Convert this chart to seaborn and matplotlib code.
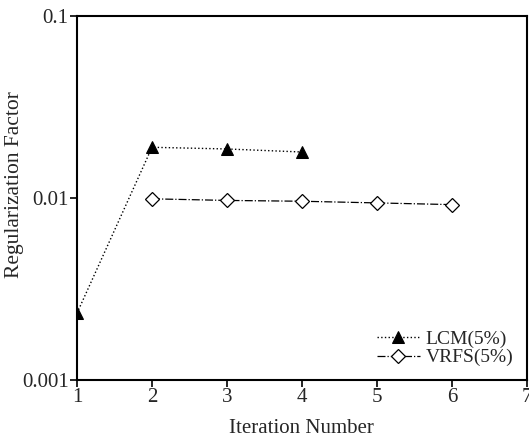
import pandas as pd
import seaborn as sns
import matplotlib.pyplot as plt

# Valores
lcm_iter = [1, 2, 3, 4]
lcm_vals = [0.00233, 0.0190, 0.0186, 0.0179]
vrfs_iter = [2, 3, 4, 5, 6]
vrfs_vals = [0.0099, 0.0097, 0.0096, 0.0094, 0.0092]
x_ticks = [1, 2, 3, 4, 5, 6, 7]
y_ticks = [0.001, 0.01, 0.1]
y_tick_labels = ['0.001', '0.01', '0.1']

df_lcm = pd.DataFrame({'iter': lcm_iter, 'val': lcm_vals})
df_vrfs = pd.DataFrame({'iter': vrfs_iter, 'val': vrfs_vals})

sns.set_style('ticks')
plt.rcParams['font.family'] = ['Liberation Serif', 'DejaVu Serif']

fig = plt.figure(figsize=(5.29, 4.44), dpi=100)
ax = fig.add_axes([0.1456, 0.1441, 0.8507, 0.8198])

sns.lineplot(data=df_lcm, x='iter', y='val', ax=ax, color='black', linestyle=':',
             linewidth=1.0, marker='^', markersize=8, markerfacecolor='black',
             markeredgecolor='black', label='LCM(5%)')
sns.lineplot(data=df_vrfs, x='iter', y='val', ax=ax, color='black', linestyle='-.',
             linewidth=0.9, marker='D', markersize=7.5, markerfacecolor='white',
             markeredgecolor='black', markeredgewidth=0.9, label='VRFS(5%)')

ax.set_yscale('log')
ax.set_xlim(1, 7)
ax.set_ylim(0.001, 0.1)
ax.set_xticks(x_ticks)
ax.set_yticks(y_ticks)
ax.set_yticklabels(y_tick_labels)
ax.minorticks_off()
ax.tick_params(axis='both', labelsize=15, length=5, width=1.2, color='black', pad=1)

for s in ax.spines.values():
    s.set_linewidth(1.5)
    s.set_color('black')

ax.set_xlabel('Iteration Number', fontsize=15, va='center')
ax.xaxis.set_label_coords(0.498, -0.132)
ax.set_ylabel('Regularization Factor', fontsize=15.5, va='center')
ax.yaxis.set_label_coords(-0.138, 0.536)

ax.legend(loc='lower right', frameon=False, fontsize=14, handlelength=2.2,
          handletextpad=0.3, labelspacing=0.05, borderaxespad=0.3)

plt.savefig('out.png', dpi=100)
